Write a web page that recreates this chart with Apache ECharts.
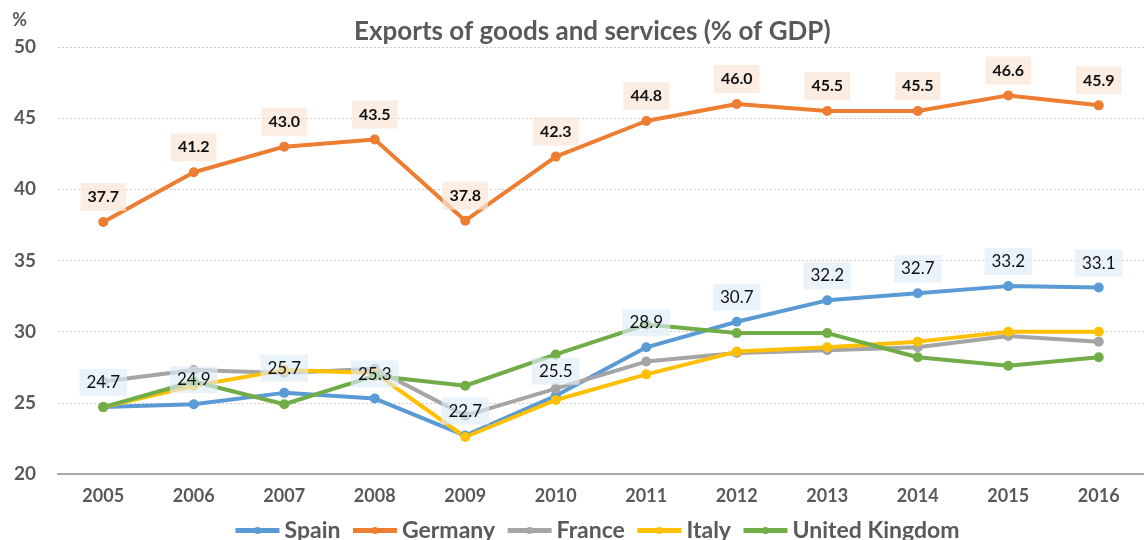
<!DOCTYPE html>
<html>
<head>
<meta charset="utf-8">
<script src="https://cdn.jsdelivr.net/npm/echarts@6/dist/echarts.min.js"></script>
<style>html,body{margin:0;padding:0;background:#fff}#c{width:1144px;height:540px}</style>
</head>
<body>
<div id="c"></div>
<script>
var years = ['2005','2006','2007','2008','2009','2010','2011','2012','2013','2014','2015','2016'];
var spain   = [24.7, 24.9, 25.7, 25.3, 22.7, 25.5, 28.9, 30.7, 32.2, 32.7, 33.2, 33.1];
var germany = [37.7, 41.2, 43.0, 43.5, 37.8, 42.3, 44.8, 46.0, 45.5, 45.5, 46.6, 45.9];
var france  = [26.5, 27.3, 27.1, 27.4, 24.1, 26.0, 27.9, 28.5, 28.7, 28.9, 29.7, 29.3];
var italy   = [24.7, 26.2, 27.3, 27.1, 22.6, 25.2, 27.0, 28.6, 28.9, 29.3, 30.0, 30.0];
var uk      = [24.7, 26.5, 24.9, 26.9, 26.2, 28.4, 30.5, 29.9, 29.9, 28.2, 27.6, 28.2];

var FONT = 'Lato';
function mk(name, data, color, label) {
  var s = {
    name: name, type: 'line', data: data,
    symbol: 'circle', symbolSize: 10,
    lineStyle: {width: 4, color: color},
    itemStyle: {color: color},
    emphasis: {disabled: true}
  };
  if (label) s.label = label;
  return s;
}
var chart = echarts.init(document.getElementById('c'));
chart.setOption({
  animation: false,
  textStyle: {fontFamily: FONT},
  title: {
    text: 'Exports of goods and services (% of GDP)',
    left: 349, top: 14,
    textStyle: {fontFamily: FONT, fontSize: 26, fontWeight: 'bold', color: '#595959'}
  },
  legend: {
    bottom: -7, left: 228,
    itemWidth: 44, itemHeight: 9, itemGap: 10,
    lineStyle: {width: 5},
    textStyle: {fontFamily: FONT, fontSize: 23, fontWeight: 'bold', color: '#595959'},
    data: ['Spain','Germany','France','Italy','United Kingdom']
  },
  grid: {left: 58, top: 47, width: 1088, bottom: 66, containLabel: false},
  xAxis: {
    type: 'category', data: years, boundaryGap: true,
    axisLine: {lineStyle: {color: '#A6A6A6', width: 2}},
    axisTick: {inside: true, length: 7, lineStyle: {color: '#A6A6A6', width: 2}},
    axisLabel: {fontFamily: FONT, fontSize: 18, fontWeight: 'bold', color: '#595959', margin: 13}
  },
  yAxis: {
    type: 'value', min: 20, max: 50, interval: 5,
    name: '%', nameLocation: 'end', nameGap: 18,
    nameTextStyle: {fontFamily: FONT, fontSize: 18, fontWeight: 'bold', color: '#595959', align: 'right', padding: [0, 31, 0, 0]},
    axisLine: {show: false}, axisTick: {show: false},
    axisLabel: {fontFamily: FONT, fontSize: 19, fontWeight: 'bold', color: '#595959', margin: 22},
    splitLine: {lineStyle: {color: '#D0D0D0', type: [2, 2], width: 1}}
  },
  series: [
    mk('Spain', spain, '#5B9BD5', {
      show: true, position: 'top', distance: 6,
      fontFamily: FONT, fontSize: 17, color: '#111',
      backgroundColor: 'rgba(222,235,247,0.65)', padding: [5, 7],
      formatter: function (p) { return p.value.toFixed(1); }
    }),
    mk('Germany', germany, '#ED7D31', {
      show: true, position: 'top', distance: 6,
      fontFamily: FONT, fontSize: 16, fontWeight: 'bold', color: '#111',
      backgroundColor: 'rgba(251,229,214,0.7)', padding: [6, 7],
      formatter: function (p) { return p.value.toFixed(1); }
    }),
    mk('France', france, '#A5A5A5'),
    mk('Italy', italy, '#FFC000'),
    mk('United Kingdom', uk, '#70AD47')
  ]
});
</script>
</body>
</html>
